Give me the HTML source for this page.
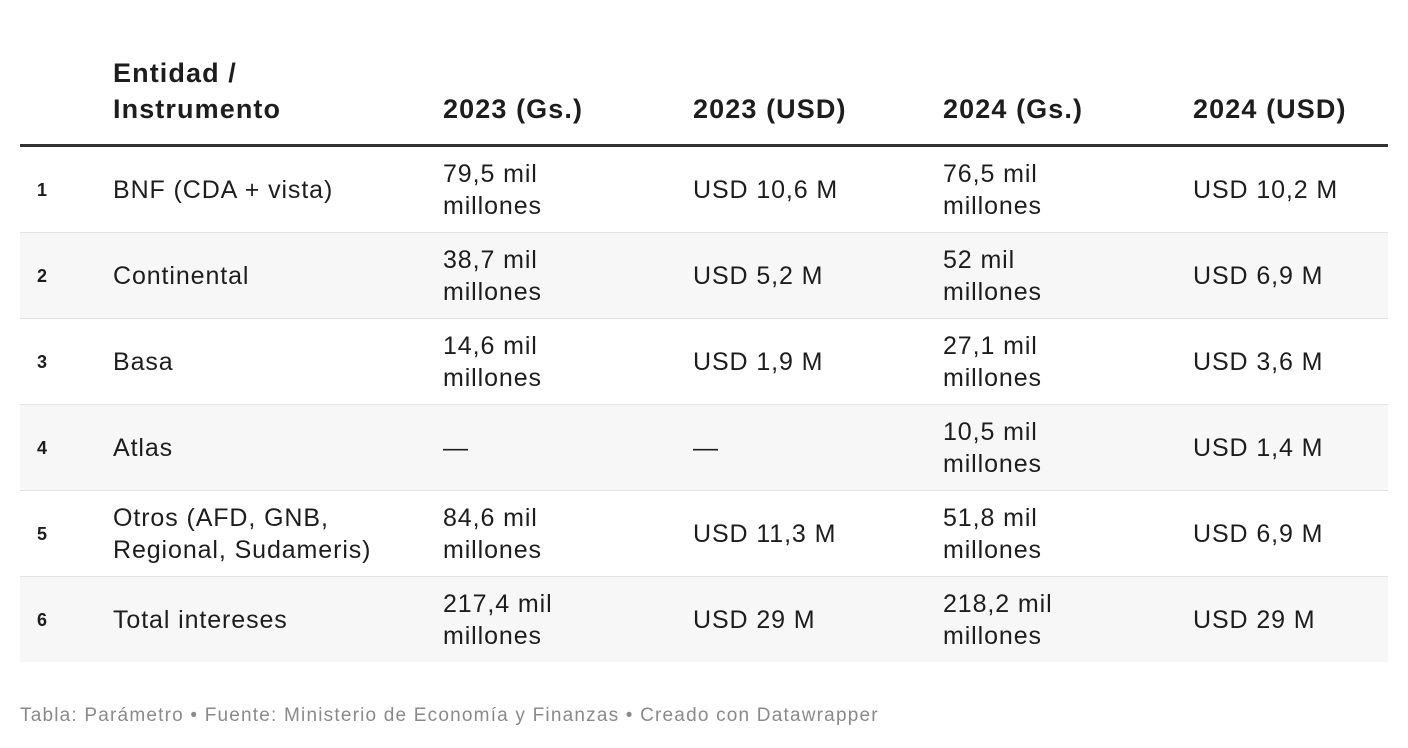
<!DOCTYPE html>
<html><head><meta charset="utf-8"><style>
body{margin:0;width:1408px;height:748px;background:#fff;font-family:"Liberation Sans",Arial,sans-serif;color:#1d1d1d;position:relative;overflow:hidden}
.h{position:absolute;font-weight:bold;font-size:27px;line-height:36px;letter-spacing:1.1px}
.row{position:absolute;left:20px;width:1368px;height:85px;border-bottom:1px solid #e3e3e3}
.row.g{background:#f7f7f7}
.c{position:absolute;top:0;height:85px;display:flex;align-items:center;font-size:25px;line-height:32px;letter-spacing:0.9px}
.n{left:17px;font-weight:bold;font-size:18px;letter-spacing:0}
.foot{position:absolute;left:20px;top:705px;font-size:19px;color:#8a8a8a;letter-spacing:1.2px}
</style></head><body>
<div class="h" style="left:113px;top:55px">Entidad /<br>Instrumento</div>
<div class="h" style="left:443px;top:91px">2023 (Gs.)</div>
<div class="h" style="left:693px;top:91px">2023 (USD)</div>
<div class="h" style="left:943px;top:91px">2024 (Gs.)</div>
<div class="h" style="left:1193px;top:91px">2024 (USD)</div>
<div style="position:absolute;left:20px;top:144px;width:1368px;height:3px;background:#333"></div>

<div class="row" style="top:147px"><div class="c n">1</div><div class="c" style="left:93px">BNF (CDA + vista)</div><div class="c" style="left:423px">79,5 mil<br>millones</div><div class="c" style="left:673px">USD 10,6 M</div><div class="c" style="left:923px">76,5 mil<br>millones</div><div class="c" style="left:1173px">USD 10,2 M</div></div>
<div class="row g" style="top:233px"><div class="c n">2</div><div class="c" style="left:93px">Continental</div><div class="c" style="left:423px">38,7 mil<br>millones</div><div class="c" style="left:673px">USD 5,2 M</div><div class="c" style="left:923px">52 mil<br>millones</div><div class="c" style="left:1173px">USD 6,9 M</div></div>
<div class="row" style="top:319px"><div class="c n">3</div><div class="c" style="left:93px">Basa</div><div class="c" style="left:423px">14,6 mil<br>millones</div><div class="c" style="left:673px">USD 1,9 M</div><div class="c" style="left:923px">27,1 mil<br>millones</div><div class="c" style="left:1173px">USD 3,6 M</div></div>
<div class="row g" style="top:405px"><div class="c n">4</div><div class="c" style="left:93px">Atlas</div><div class="c" style="left:423px">—</div><div class="c" style="left:673px">—</div><div class="c" style="left:923px">10,5 mil<br>millones</div><div class="c" style="left:1173px">USD 1,4 M</div></div>
<div class="row" style="top:491px"><div class="c n">5</div><div class="c" style="left:93px">Otros (AFD, GNB,<br>Regional, Sudameris)</div><div class="c" style="left:423px">84,6 mil<br>millones</div><div class="c" style="left:673px">USD 11,3 M</div><div class="c" style="left:923px">51,8 mil<br>millones</div><div class="c" style="left:1173px">USD 6,9 M</div></div>
<div class="row g" style="top:577px;border-bottom:none"><div class="c n">6</div><div class="c" style="left:93px">Total intereses</div><div class="c" style="left:423px">217,4 mil<br>millones</div><div class="c" style="left:673px">USD 29 M</div><div class="c" style="left:923px">218,2 mil<br>millones</div><div class="c" style="left:1173px">USD 29 M</div></div>

<div class="foot">Tabla: Parámetro • Fuente: Ministerio de Economía y Finanzas • Creado con Datawrapper</div>
</body></html>
